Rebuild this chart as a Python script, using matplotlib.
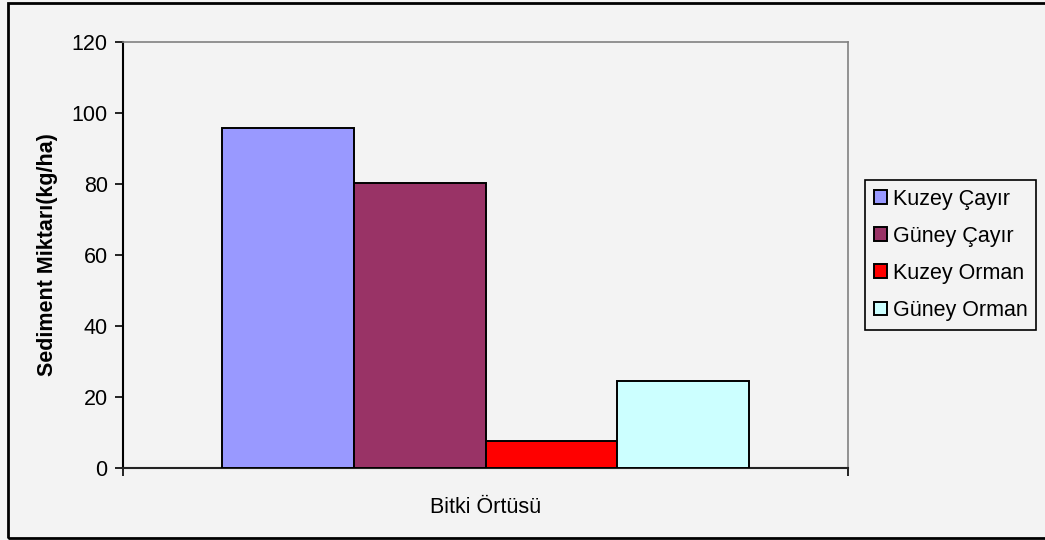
import numpy as np
import matplotlib
matplotlib.use("Agg")
import matplotlib.pyplot as plt
from matplotlib.patches import Rectangle

plt.rcParams['font.family'] = ['Liberation Sans', 'DejaVu Sans']

# data
category = "Bitki Örtüsü"
series = ["Kuzey Çayır", "Güney Çayır", "Kuzey Orman", "Güney Orman"]
values = [95.7, 80.3, 7.5, 24.3]
colors = ["#9999ff", "#993366", "#ff0000", "#ccffff"]
y_ticks = [0, 20, 40, 60, 80, 100, 120]

bg = "#f3f3f3"
fs = 15.5
fig = plt.figure(figsize=(10.45, 5.40), dpi=100, facecolor=bg)
ax = fig.add_axes([123/1045, 1-467.5/540, (848-123)/1045, (467.5-41.7)/540])
ax.set_facecolor(bg)

# excel style: gap width 150%
w = 1/5.5
for i, (name, v, c) in enumerate(zip(series, values, colors)):
    ax.bar((i - 1.5) * w, v, width=w, color=c, edgecolor="black",
           linewidth=1.4, label=name, zorder=3)

ax.set_xlim(-0.5, 0.5)
ax.set_ylim(0, 120)
ax.set_yticks(y_ticks)
ax.set_xticks([-0.5, 0.5])
ax.set_xticklabels(["", ""])
ax.tick_params(axis='y', length=6, width=1.2, labelsize=fs, pad=5)
ax.tick_params(axis='x', length=6, width=1.2)
ax.text(0, -0.093, category, transform=ax.get_xaxis_transform(),
        ha='center', va='center', fontsize=fs)

ax.set_ylabel("Sediment Miktarı(kg/ha)", fontsize=fs, fontweight='bold', labelpad=10)

ax.spines['left'].set_color('black')
ax.spines['left'].set_linewidth(1.5)
ax.spines['bottom'].set_color('#222222')
ax.spines['bottom'].set_linewidth(1.5)
ax.spines['top'].set_color('#808080')
ax.spines['right'].set_color('#808080')
ax.spines['top'].set_linewidth(1.2)
ax.spines['right'].set_linewidth(1.2)

leg = fig.legend(loc='upper left', bbox_to_anchor=(865/1045, 1-180/540),
                 fontsize=fs, frameon=True, fancybox=False, facecolor=bg,
                 edgecolor='black', handlelength=0.6, handleheight=0.6,
                 handletextpad=0.3, labelspacing=0.75, borderpad=0.4,
                 borderaxespad=0)
leg.get_frame().set_linewidth(1.2)
leg.get_frame().set_alpha(None)

# outer chart border
fig.patches.append(Rectangle((8/1045, 2/540), 1.2, 1-5/540, transform=fig.transFigure,
                             fill=False, edgecolor='black', linewidth=2))

fig.savefig("out.png", dpi=100, facecolor=bg)
